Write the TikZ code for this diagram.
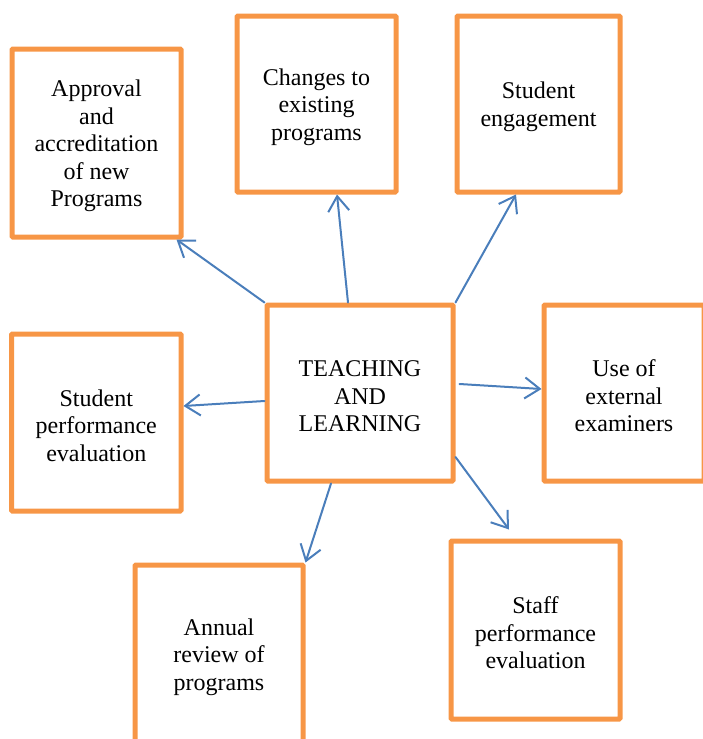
\documentclass[tikz,border=0pt]{standalone}
\usepackage{fontspec}
\setmainfont{Liberation Serif}
\usetikzlibrary{arrows.meta}
\definecolor{boxorange}{HTML}{F79646}
\definecolor{arrowblue}{HTML}{4A7EBB}
\newcommand{\mytopstrut}{\rule{0pt}{22.5pt}}
\tikzset{
  box/.style={draw=boxorange, line width=5pt, rounded corners=1pt, inner sep=0pt,
    align=center, font=\fontsize{24}{27.6}\selectfont, text=black},
  link/.style={draw=arrowblue, line width=2pt, line cap=round,
    -{Straight Barb[length=15pt,width=21pt,line width=2pt]}}
}
\begin{document}
\begin{tikzpicture}[x=1pt,y=-1pt]
\useasboundingbox (0,0) rectangle (702,739);
\node[box, minimum width=169pt, minimum height=188pt] (a) at (96.5,143) {\mytopstrut Approval\\and\\accreditation\\of new\\Programs};
\node[box, minimum width=159pt, minimum height=176pt] (b) at (316.5,104) {\mytopstrut Changes to\\existing\\programs};
\node[box, minimum width=163pt, minimum height=176pt] (s) at (538.5,104) {\mytopstrut Student\\engagement};
\node[box, minimum width=186pt, minimum height=176pt] (c) at (360,393) {\mytopstrut TEACHING\\AND\\LEARNING};
\node[box, minimum width=169.5pt, minimum height=177pt] (d) at (96.25,422.5) {\mytopstrut Student\\performance\\evaluation};
\node[box, minimum width=160pt, minimum height=176pt] (e) at (624,393) {\mytopstrut Use of\\external\\examiners};
\node[box, minimum width=168pt, minimum height=178pt] (g) at (219,654) {\mytopstrut Annual\\review of\\programs};
\node[box, minimum width=169pt, minimum height=178pt] (h) at (535.5,630) {\mytopstrut Staff\\performance\\evaluation};
\draw[link] (c.north west) -- ([xshift=-7pt]a.south east);
\draw[link] ([xshift=-12pt]c.north) -- ([xshift=20.5pt]b.south);
\draw[link] (c.north east) -- ([xshift=-22.5pt]s.south);
\draw[link] ([yshift=-8pt]c.west) -- ([yshift=16.5pt]d.east);
\draw[link] ([shift={(4pt,9pt)}]c.east) -- ([yshift=4pt]e.west);
\draw[link] ([yshift=-64pt]c.east) -- ([shift={(-26.5pt,9pt)}]h.north);
\draw[link] ([xshift=-29pt]c.south) -- (g.north east);
\end{tikzpicture}
\end{document}
